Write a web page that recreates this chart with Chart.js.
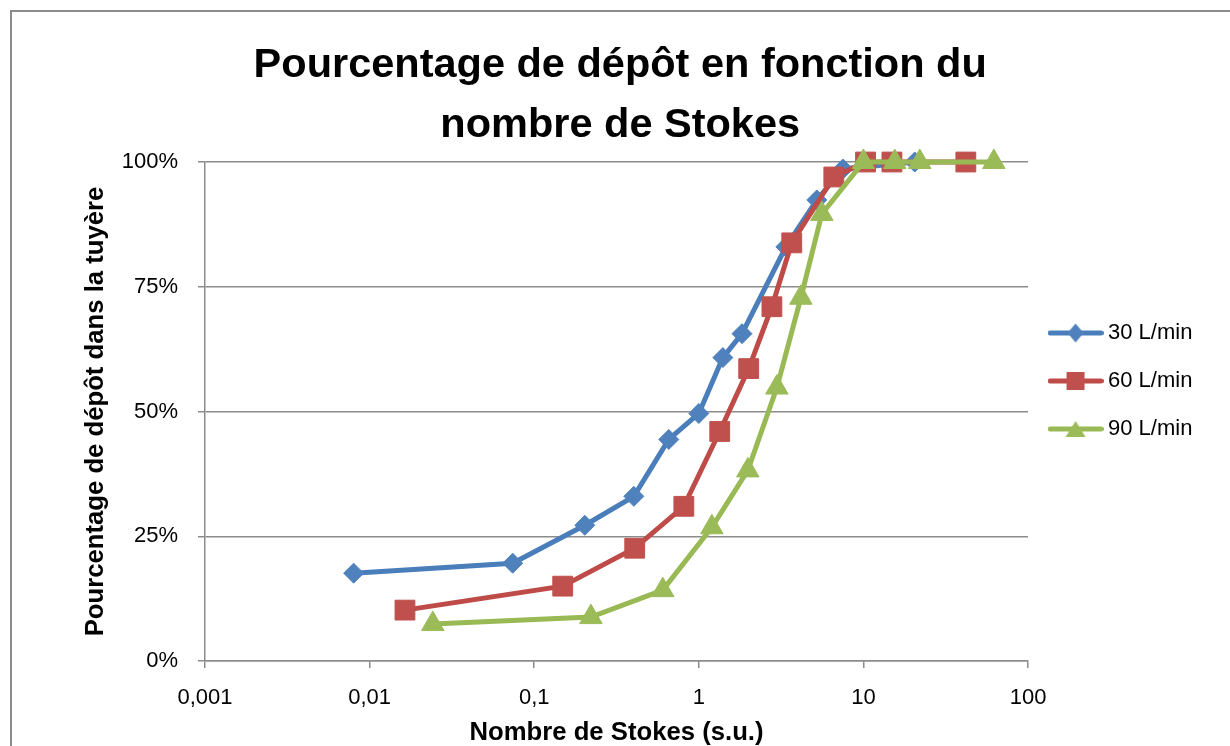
<!DOCTYPE html>
<html>
<head>
<meta charset="utf-8">
<script src="https://cdn.jsdelivr.net/npm/chart.js@4.4.1/dist/chart.umd.min.js"></script>
<style>
  html, body { margin: 0; padding: 0; background: #ffffff; }
  #wrap { position: relative; width: 1230px; height: 746px; overflow: hidden; background: #fff; }
  #frame { position: absolute; left: 10px; top: 10px; width: 1300px; height: 800px; border-left: 2px solid #8c8c8c; border-top: 2px solid #8c8c8c; box-sizing: border-box; }
  #c { position: absolute; left: 0; top: 0; }
</style>
</head>
<body>
<div id="wrap">
  <div id="frame"></div>
  <canvas id="c" width="1230" height="746"></canvas>
</div>
<script>
// ---- Data ----
const seriesNames = ['30 L/min', '60 L/min', '90 L/min'];

const stokes30 = [0.008, 0.074, 0.203, 0.403, 0.657, 1.0, 1.40, 1.83, 3.38, 5.21, 7.5, 20.5];
const depot30  = [17.6, 19.6, 27.2, 33.0, 44.4, 49.6, 60.8, 65.6, 83.0, 92.4, 98.6, 100];

const stokes60 = [0.0164, 0.149, 0.408, 0.811, 1.34, 2.01, 2.78, 3.67, 6.61, 10.3, 14.9, 41.9];
const depot60  = [10.2, 15.0, 22.6, 31.0, 46.0, 58.6, 71.0, 83.8, 97.0, 100, 100, 100];

const stokes90 = [0.0242, 0.221, 0.604, 1.2, 1.985, 2.98, 4.17, 5.59, 10.0, 15.5, 22.0, 62.0];
const depot90  = [7.4, 8.8, 14.2, 26.8, 38.2, 54.8, 72.8, 89.6, 100, 100, 100, 100];

const xTickValues = [0.001, 0.01, 0.1, 1, 10, 100];
const xTickLabels = ['0,001', '0,01', '0,1', '1', '10', '100'];
const yTickValues = [0, 25, 50, 75, 100];
const yTickLabels = ['0%', '25%', '50%', '75%', '100%'];

const titleLines = ['Pourcentage de dépôt en fonction du', 'nombre de Stokes'];
const xTitle = 'Nombre de Stokes (s.u.)';
const yTitle = 'Pourcentage de dépôt dans la tuyère';

// ---- Styles ----
const FONT = "'Liberation Sans', Arial, sans-serif";
const lineColors = ['#4A7EBB', '#BE4B48', '#98B954'];
const markColors = ['#4F81BD', '#C0504D', '#9BBB59'];
const markStyles = ['rectRot', 'rect', 'triangle'];
const markRadius = [10, 14, 13];
const gridColor = '#8c8c8c';

function pts(xs, ys) { return xs.map((x, i) => ({ x: x, y: ys[i] })); }

function legendImage(i) {
  const cv = document.createElement('canvas');
  cv.width = 56; cv.height = 24;
  const g = cv.getContext('2d');
  g.strokeStyle = lineColors[i];
  g.lineWidth = 5;
  g.lineCap = 'round';
  g.beginPath(); g.moveTo(2.5, 12); g.lineTo(53.5, 12); g.stroke();
  g.fillStyle = markColors[i];
  g.beginPath();
  if (i === 0) { g.moveTo(28, 2.5); g.lineTo(36, 12); g.lineTo(28, 21.5); g.lineTo(20, 12); }
  else if (i === 1) { g.rect(19, 3, 18, 18); }
  else { g.moveTo(28, 4); g.lineTo(38, 20); g.lineTo(18, 20); }
  g.closePath(); g.fill();
  return cv;
}
const legendImgs = [0, 1, 2].map(legendImage);

const allX = [stokes30, stokes60, stokes90];
const allY = [depot30, depot60, depot90];

const datasets = seriesNames.map((name, i) => ({
  label: name,
  data: pts(allX[i], allY[i]),
  borderColor: lineColors[i],
  backgroundColor: markColors[i],
  borderWidth: 5,
  pointStyle: markStyles[i],
  pointRadius: markRadius[i],
  pointHoverRadius: markRadius[i],
  pointBackgroundColor: markColors[i],
  pointBorderColor: markColors[i],
  pointBorderWidth: 1,
  tension: 0,
  clip: false,
  order: 3 - i
}));

new Chart(document.getElementById('c'), {
  type: 'line',
  data: { datasets: datasets },
  options: {
    responsive: false,
    animation: false,
    devicePixelRatio: 1,
    layout: { padding: { left: 38, right: 27.6, top: 0, bottom: 0 } },
    plugins: {
      tooltip: { enabled: false },
      title: {
        display: true,
        text: titleLines,
        color: '#000',
        font: { family: FONT, size: 41.5, weight: 'bold', lineHeight: 1.446 },
        padding: { top: 36, bottom: 6 }
      },
      legend: {
        display: true,
        position: 'right',
        align: 'start',
        title: { display: true, text: '', font: { size: 1, lineHeight: 1 }, padding: { top: 295, bottom: 0 } },
        labels: {
          usePointStyle: true,
          pointStyleWidth: 43,
          color: '#000',
          font: { family: FONT, size: 22 },
          padding: 26,
          sort: (a, b) => a.datasetIndex - b.datasetIndex,
          generateLabels: (chart) => Chart.defaults.plugins.legend.labels.generateLabels(chart)
            .map(l => Object.assign({}, l, { pointStyle: legendImgs[l.datasetIndex] }))
        }
      }
    },
    scales: {
      x: {
        type: 'logarithmic',
        min: xTickValues[0],
        max: xTickValues[xTickValues.length - 1],
        afterBuildTicks: (scale) => { scale.ticks = xTickValues.map(v => ({ value: v })); },
        afterFit: (scale) => { scale.height = 85; },
        ticks: {
          autoSkip: false, maxRotation: 0, minRotation: 0,
          color: '#000', font: { family: FONT, size: 22 }, padding: 17,
          callback: (v, idx) => xTickLabels[idx]
        },
        grid: { display: true, drawOnChartArea: false, drawTicks: true, tickLength: 7, color: gridColor, lineWidth: 1.5 },
        border: { display: true, color: gridColor, width: 1.5 },
        title: {
          display: true, text: xTitle, color: '#000',
          font: { family: FONT, size: 25.7, weight: 'bold', lineHeight: 1 },
          padding: { top: 11, bottom: 0 }
        }
      },
      y: {
        type: 'linear',
        min: 0, max: 100,
        afterBuildTicks: (scale) => { scale.ticks = yTickValues.map(v => ({ value: v })); },
        afterFit: (scale) => { scale.width = 167; },
        ticks: {
          color: '#000', font: { family: FONT, size: 22 }, padding: 20,
          callback: (v, idx) => yTickLabels[idx]
        },
        grid: { display: true, drawOnChartArea: true, drawTicks: true, tickLength: 7, color: gridColor, lineWidth: 1.5 },
        border: { display: true, color: gridColor, width: 1.5 },
        title: {
          display: true, text: yTitle, color: '#000',
          font: { family: FONT, size: 25.7, weight: 'bold', lineHeight: 1.2 },
          padding: { top: 42, bottom: 10 }
        }
      }
    }
  }
});
</script>
</body>
</html>
